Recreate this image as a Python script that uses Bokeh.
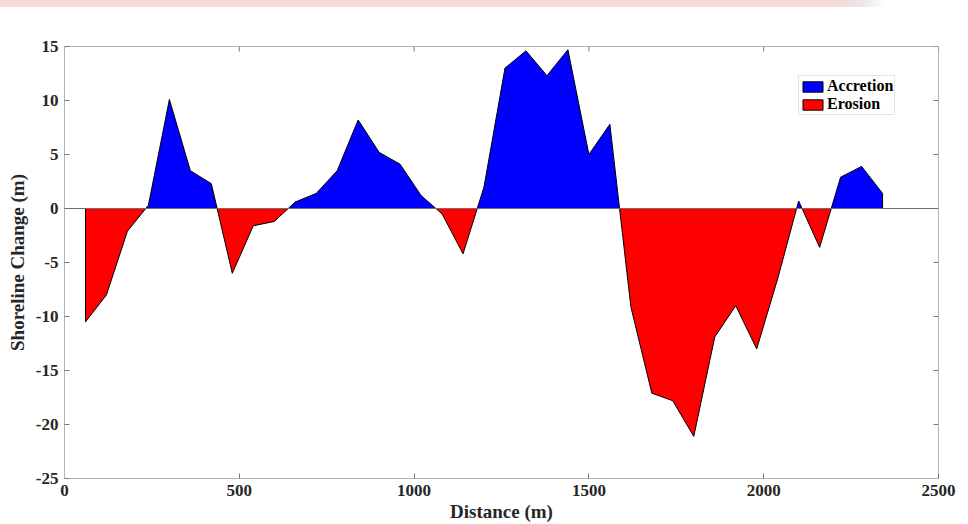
import numpy as np
from bokeh.plotting import figure
from bokeh.layouts import column
from bokeh.models import Range1d, Span, Legend, LegendItem, FixedTicker, Div
from bokeh.embed import file_html
from bokeh.resources import INLINE

# Transect positions along the coast (m) and net shoreline change (m)
distance = [60, 120, 180, 240, 300, 360, 420, 480, 540, 600,
            660, 720, 780, 840, 900, 960, 1020, 1080, 1140, 1200,
            1260, 1320, 1380, 1440, 1500, 1560, 1620, 1680, 1740, 1800,
            1860, 1920, 1980, 2040, 2100, 2160, 2220, 2280, 2340]
change = [-10.5, -8.0, -2.1, 0.3, 10.1, 3.5, 2.3, -6.0, -1.6, -1.2,
          0.6, 1.4, 3.5, 8.2, 5.2, 4.1, 1.2, -0.5, -4.2, 2.0,
          13.0, 14.6, 12.3, 14.7, 5.0, 7.8, -9.1, -17.1, -17.8, -21.1,
          -11.9, -9.0, -13.0, -6.5, 0.7, -3.6, 2.9, 3.9, 1.4]

x_ticks = [0, 500, 1000, 1500, 2000, 2500]
y_ticks = [-25, -20, -15, -10, -5, 0, 5, 10, 15]

series_names = ["Accretion", "Erosion"]
series_colors = ["#0000ff", "#ff0000"]

FONT = "Liberation Serif"
FRAME = "#b4b4b4"
TICK = "#7a7a7a"
TEXT = "#262626"

X_MIN, X_MAX = 0, 2500
Y_MIN, Y_MAX = -25, 15


def split_at_zero(x, y):
    """Add the points where the profile crosses zero so each fill meets the baseline."""
    xs, ys = [x[0]], [y[0]]
    for i in range(1, len(x)):
        y0, y1 = y[i - 1], y[i]
        if y0 * y1 < 0:
            xs.append(x[i - 1] + (x[i] - x[i - 1]) * y0 / (y0 - y1))
            ys.append(0.0)
        xs.append(x[i])
        ys.append(y1)
    return np.array(xs, dtype=float), np.array(ys, dtype=float)


xs, ys = split_at_zero(distance, change)
pos = np.maximum(ys, 0.0)
neg = np.minimum(ys, 0.0)

p = figure(width=968, height=517, output_backend="svg", toolbar_location=None,
           x_range=Range1d(X_MIN, X_MAX), y_range=Range1d(Y_MIN, Y_MAX),
           min_border_left=64, min_border_right=30, min_border_top=39,
           min_border_bottom=45, background_fill_color="white",
           border_fill_color="white")
p.xgrid.visible = False
p.ygrid.visible = False
p.outline_line_color = FRAME
p.outline_line_width = 1

# baseline at zero change
p.add_layout(Span(location=0, dimension="width", line_color="#6e6e6e", line_width=1))

px = np.concatenate([[xs[0]], xs, [xs[-1]]])
r_acc = p.patch(px, np.concatenate([[0.0], pos, [0.0]]), fill_color=series_colors[0],
                line_color="black", line_width=1)
r_ero = p.patch(px, np.concatenate([[0.0], neg, [0.0]]), fill_color=series_colors[1],
                line_color="black", line_width=1)

xa = p.xaxis[0]
ya = p.yaxis[0]
xa.ticker = FixedTicker(ticks=x_ticks)
ya.ticker = FixedTicker(ticks=y_ticks)
# plain hyphen for negatives
ya.major_label_overrides = {t: str(t) for t in y_ticks}
for ax in (xa, ya):
    ax.axis_line_color = FRAME
    ax.major_tick_line_color = TICK
    ax.major_tick_in = 5
    ax.major_tick_out = 0
    ax.minor_tick_line_color = None
    ax.major_label_text_font = FONT
    ax.major_label_text_font_style = "bold"
    ax.major_label_text_font_size = "17px"
    ax.major_label_text_color = TEXT
    ax.axis_label_text_font = FONT
    ax.axis_label_text_font_style = "bold"
    ax.axis_label_text_font_size = "19px"
    ax.axis_label_text_color = TEXT
xa.axis_label = "Distance (m)"
ya.axis_label = "Shoreline Change (m)"
xa.major_label_standoff = 6
xa.axis_label_standoff = 2
ya.major_label_standoff = 6
ya.axis_label_standoff = 5

# mirrored inward tick marks along the top and right edges of the box
p.ray(x=x_ticks, y=[Y_MAX] * len(x_ticks), length=5, length_units="screen",
      angle=-np.pi / 2, line_color=TICK, line_width=1)
p.ray(x=[X_MAX] * len(y_ticks), y=y_ticks, length=5, length_units="screen",
      angle=np.pi, line_color=TICK, line_width=1)

legend = Legend(items=[LegendItem(label=series_names[0], renderers=[r_acc]),
                       LegendItem(label=series_names[1], renderers=[r_ero])],
                location=(734, 363))
legend.label_text_font = FONT
legend.label_text_font_style = "bold"
legend.label_text_font_size = "16px"
legend.label_text_color = "black"
legend.label_text_line_height = 1.0
legend.label_height = 15
legend.glyph_height = 13
legend.glyph_width = 25
legend.label_standoff = 2
legend.spacing = 0
legend.padding = 1
legend.margin = 0
legend.border_line_color = "#c8c8c8"
legend.border_line_width = 1
legend.background_fill_alpha = 1.0
p.add_layout(legend)

# pale banner strip along the top of the page
band = Div(text="", width=968, height=7,
           styles={"background": "linear-gradient(to right, #f8d9dc 0px, #f8d9dc 840px, "
                                 "#ebe3ef 862px, #ffffff 885px)",
                   "margin": "0", "padding": "0"})

page = column(band, p, spacing=0)
open("out.html", "w").write(file_html(page, INLINE))
